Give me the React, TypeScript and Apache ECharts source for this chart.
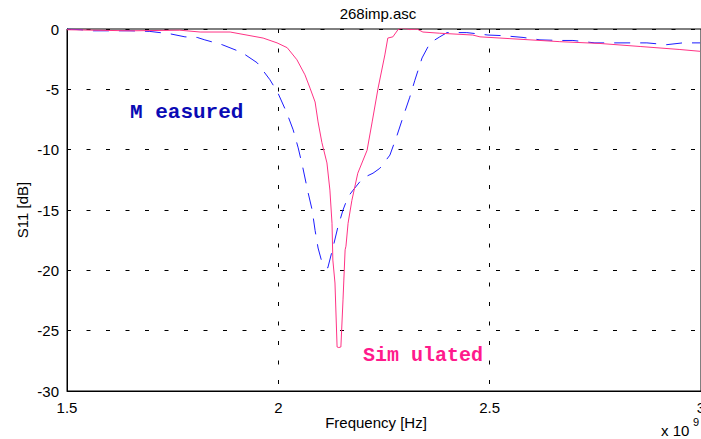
import React, { useEffect, useRef } from "react";
import * as echarts from "echarts";

// Frequency in units of 1e9 Hz, S11 in dB
const simFreq = [1.5, 1.649, 1.767, 1.815, 1.886, 1.964, 1.997, 2.021, 2.044, 2.063, 2.075, 2.087, 2.094, 2.103, 2.115, 2.122, 2.127, 2.129, 2.134, 2.139, 2.143, 2.148, 2.153, 2.158, 2.16, 2.165, 2.174, 2.188, 2.21, 2.222, 2.236, 2.252, 2.259, 2.271, 2.283, 2.295, 2.311, 2.328, 2.342, 2.382, 2.46, 2.477, 2.548, 2.666, 2.761, 2.856, 2.95, 2.998];
const simS11 = [-0.06, -0.15, -0.1, -0.25, -0.25, -0.75, -1.15, -1.55, -2.55, -3.8, -4.9, -6.05, -7.7, -9.4, -11.1, -13.35, -16.1, -19.15, -21.05, -26.35, -26.4, -26.35, -22.45, -18.3, -18.0, -16.1, -14.2, -11.95, -10.05, -7.7, -4.9, -2.15, -0.75, -0.65, -0.06, 0.1, -0.05, 0, -0.25, -0.35, -0.5, -0.65, -0.8, -1.05, -1.2, -1.45, -1.7, -1.85];

const measFreq = [1.5, 1.531, 1.562, 1.602, 1.649, 1.696, 1.744, 1.779, 1.808, 1.826, 1.867, 1.914, 1.95, 1.98, 1.999, 2.02, 2.035, 2.047, 2.058, 2.07, 2.08, 2.087, 2.094, 2.103, 2.11, 2.117, 2.129, 2.141, 2.153, 2.165, 2.177, 2.2, 2.224, 2.24, 2.264, 2.281, 2.295, 2.311, 2.323, 2.34, 2.359, 2.382, 2.399, 2.446, 2.496, 2.531, 2.579, 2.619, 2.666, 2.697, 2.749, 2.785, 2.837, 2.872, 2.919, 2.957, 2.998];
const measS11 = [0, -0.06, -0.15, -0.15, -0.15, -0.2, -0.4, -0.65, -0.7, -0.9, -1.3, -1.95, -2.8, -4.2, -5.3, -6.95, -8.35, -9.85, -11.5, -13.5, -15.0, -16.7, -18.15, -19.3, -19.65, -19.8, -18.15, -16.4, -15.0, -13.9, -13.35, -12.35, -11.95, -11.55, -10.45, -8.8, -7.3, -5.65, -4.25, -2.4, -1.15, -0.65, -0.3, -0.3, -0.5, -0.55, -0.7, -0.9, -0.95, -0.95, -1.15, -1.15, -1.15, -1.15, -1.3, -1.15, -1.15];

const xMin = 1.5, xMax = 3, xStep = 0.5;
const yMin = -30, yMax = 0, yStep = 5;

const FONT = "Liberation Sans";

export default function App() {
  const ref = useRef<HTMLDivElement>(null);
  useEffect(() => {
    if (!ref.current) return;
    const chart = echarts.init(ref.current, undefined, { renderer: "svg" });
    const grid = { left: 67, top: 29, width: 634, height: 362 };
    const dash = { type: [4, 15.5] as any, color: "#000", width: 1 };
    chart.setOption({
      animation: false,
      backgroundColor: "#fff",
      grid: { ...grid, outerBoundsMode: "none", containLabel: false, show: true, borderColor: "#000", borderWidth: 1, backgroundColor: "transparent" },
      xAxis: {
        type: "value", min: xMin, max: xMax, interval: xStep,
        axisLine: { onZero: false, lineStyle: { color: "#000", width: 1 } },
        axisTick: { show: false },
        splitLine: { show: true, lineStyle: dash },
        axisLabel: { color: "#000", fontFamily: FONT, fontSize: 15, margin: 9, showMaxLabel: true, showMinLabel: true, hideOverlap: false },
      },
      yAxis: {
        type: "value", min: yMin, max: yMax, interval: yStep,
        axisLine: { show: true, lineStyle: { color: "#000", width: 1 } },
        axisTick: { show: false },
        splitLine: { show: true, lineStyle: dash },
        axisLabel: { color: "#000", fontFamily: FONT, fontSize: 15, margin: 8 },
      },
      series: [
        {
          type: "line", name: "Measured", showSymbol: false, symbol: "none",
          data: measFreq.map((f, i) => [f, measS11[i]]),
          lineStyle: { color: "#1c1cff", width: 1, type: [16, 10] as any },
        },
        {
          type: "line", name: "Simulated", showSymbol: false, symbol: "none",
          data: simFreq.map((f, i) => [f, simS11[i]]),
          lineStyle: { color: "#ff3385", width: 1 },
        },
      ],
      graphic: [
        { type: "text", x: 378, y: 13, style: { text: "268imp.asc", fontFamily: FONT, fontSize: 15, fill: "#000", textAlign: "center", textVerticalAlign: "middle" } },
        { type: "text", x: 376, y: 422, style: { text: "Frequency [Hz]", fontFamily: FONT, fontSize: 15, fill: "#000", textAlign: "center", textVerticalAlign: "middle" } },
        { type: "text", x: 22, y: 210, rotation: Math.PI / 2, style: { text: "S11 [dB]", fontFamily: FONT, fontSize: 15, fill: "#000", textAlign: "center", textVerticalAlign: "middle" } },
        { type: "text", x: 661, y: 430, style: { text: "x 10", fontFamily: FONT, fontSize: 15, fill: "#000", textAlign: "left", textVerticalAlign: "middle" } },
        { type: "text", x: 693, y: 422, style: { text: "9", fontFamily: FONT, fontSize: 11, fill: "#000", textAlign: "left", textVerticalAlign: "middle" } },
        { type: "text", x: 130, y: 112, style: { text: "M easured", fontFamily: "Liberation Mono", fontWeight: "bold", fontSize: 21, fill: "#0a0ab4", textAlign: "left", textVerticalAlign: "middle" } },
        { type: "text", x: 363, y: 355, style: { text: "Sim ulated", fontFamily: "Liberation Mono", fontWeight: "bold", fontSize: 20, fill: "#ff1a8c", textAlign: "left", textVerticalAlign: "middle" } },
      ],
    });
    return () => chart.dispose();
  }, []);
  return <div ref={ref} style={{ position: "fixed", left: 0, top: 0, width: 701, height: 439 }} />;
}
